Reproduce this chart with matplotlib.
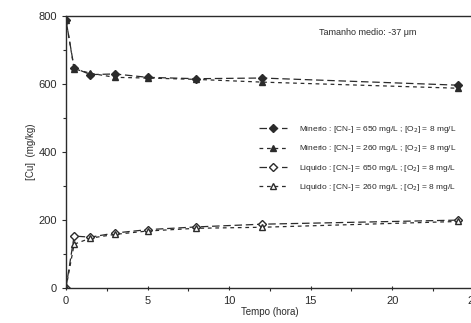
import matplotlib
matplotlib.use('Agg')
import matplotlib.pyplot as plt
from matplotlib.ticker import MultipleLocator

plt.rcParams['font.family'] = ['Liberation Sans', 'DejaVu Sans']

# tempo (hora)
tempo = [0, 0.5, 1.5, 3, 5, 8, 12, 24]

# [Cu] (mg/kg)
minerio_650 = [790, 648, 628, 630, 620, 616, 618, 597]
minerio_260 = [790, 645, 632, 620, 618, 614, 606, 588]
liquido_650 = [0, 153, 150, 162, 172, 180, 188, 200]
liquido_260 = [0, 129, 147, 158, 168, 176, 179, 196]

labels = [
    'Minerio : [CN-] = 650 mg/L ; [O$_2$] = 8 mg/L',
    'Minerio : [CN-] = 260 mg/L ; [O$_2$] = 8 mg/L',
    'Liquido : [CN-] = 650 mg/L ; [O$_2$] = 8 mg/L',
    'Liquido : [CN-] = 260 mg/L ; [O$_2$] = 8 mg/L',
]

ink = '#2b2b2b'

fig = plt.figure(figsize=(4.71, 3.23), dpi=100)
ax = fig.add_axes([0.140, 0.108, 0.866, 0.842])

ax.plot(tempo, minerio_650, color=ink, ls=(0, (6, 3)), lw=0.9, marker='D', ms=4,
        mfc=ink, mec=ink, label=labels[0])
ax.plot(tempo, minerio_260, color=ink, ls=(0, (3, 3)), lw=0.9, marker='^', ms=4,
        mfc=ink, mec=ink, label=labels[1])
ax.plot(tempo, liquido_650, color=ink, ls=(0, (6, 3)), lw=0.9, marker='D', ms=4,
        mfc='white', mec=ink, label=labels[2])
ax.plot(tempo, liquido_260, color=ink, ls=(0, (3, 3)), lw=0.9, marker='^', ms=4,
        mfc='white', mec=ink, label=labels[3])

ax.set_xlim(0, 25)
ax.set_ylim(0, 800)
ax.xaxis.set_major_locator(MultipleLocator(5))
ax.xaxis.set_minor_locator(MultipleLocator(2.5))
ax.yaxis.set_major_locator(MultipleLocator(200))
ax.yaxis.set_minor_locator(MultipleLocator(100))
ax.tick_params(axis='both', which='major', labelsize=8, colors=ink, length=3, width=0.8)
ax.tick_params(axis='both', which='minor', colors=ink, length=2, width=0.8)
ax.tick_params(axis='x', direction='inout', pad=4)

for side in ['left', 'bottom', 'top']:
    ax.spines[side].set_color(ink)
    ax.spines[side].set_linewidth(1.0)
ax.spines['right'].set_visible(False)

ax.set_xlabel('Tempo (hora)', fontsize=7, color=ink, labelpad=1)
ax.set_ylabel('[Cu]  (mg/kg)', fontsize=7, color=ink, labelpad=2)

ax.text(0.62, 0.955, 'Tamanho medio: -37 \u03bcm', transform=ax.transAxes,
        fontsize=6.5, color=ink, va='top', ha='left')

leg = ax.legend(loc='center right', bbox_to_anchor=(0.975, 0.476), fontsize=6,
                frameon=False, handlelength=3.4, labelspacing=1.0,
                handletextpad=1.4, labelcolor=ink)

fig.savefig('out.png', dpi=100)
